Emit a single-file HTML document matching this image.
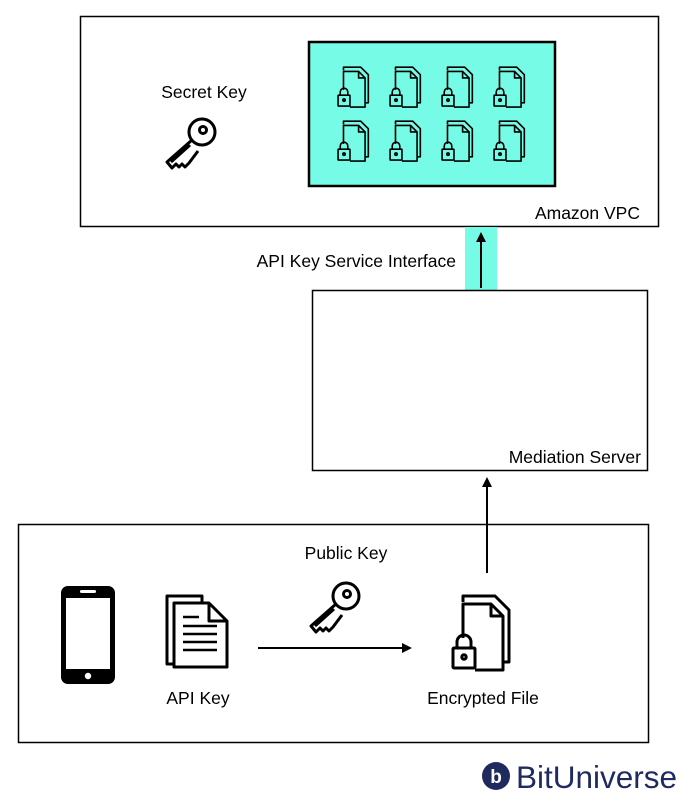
<!DOCTYPE html>
<html><head><meta charset="utf-8"><style>
html,body{margin:0;padding:0;background:#fff}
svg{display:block}
text{font-family:"Liberation Sans",sans-serif;fill:#000}
</style></head><body>
<svg width="694" height="805" viewBox="0 0 694 805" xmlns="http://www.w3.org/2000/svg">
<defs>
<g id="lf" fill="none" stroke="#000" stroke-width="3" stroke-linejoin="round">
  <path d="M12 10 V4 H44 L58 18 V70 H52"/>
  <path d="M12 46 V12 H40 L52 24 V78 H24"/>
  <path d="M40 12 V24 H52"/>
  <rect x="2" y="56" width="22" height="20" rx="1"/>
  <path d="M6 56 V50 A7 7 0 0 1 20 50 V56"/>
  <circle cx="13" cy="65" r="2.2"/>
</g>
<g id="key" fill="none" stroke="#000" stroke-width="3" stroke-linejoin="round">
  <circle cx="38" cy="14" r="13"/>
  <circle cx="39" cy="12" r="3.5"/>
  <path d="M28 22 L3 44 L8 50 L12 46 L15 49 L18 46 L21 49 L25 45 L34 33"/>
  <path d="M7 44 L26 27"/>
</g>
</defs>

<rect x="80.5" y="16.5" width="578" height="210" fill="#fff" stroke="#000" stroke-width="1.5"/>
<text x="204" y="98" font-size="17.5" text-anchor="middle">Secret Key</text>
<use href="#key" transform="translate(164,118)"/>
<rect x="309" y="42" width="246" height="144" fill="#76fbe6" stroke="#000" stroke-width="2.5"/>
<g>
  <use href="#lf" transform="translate(337,65) scale(0.54)"/>
  <use href="#lf" transform="translate(389,65) scale(0.54)"/>
  <use href="#lf" transform="translate(441,65) scale(0.54)"/>
  <use href="#lf" transform="translate(493,65) scale(0.54)"/>
  <use href="#lf" transform="translate(337,119) scale(0.54)"/>
  <use href="#lf" transform="translate(389,119) scale(0.54)"/>
  <use href="#lf" transform="translate(441,119) scale(0.54)"/>
  <use href="#lf" transform="translate(493,119) scale(0.54)"/>
</g>
<text x="640" y="219" font-size="17.5" text-anchor="end">Amazon VPC</text>

<rect x="465" y="227" width="32" height="63" fill="#76fbe6"/>
<line x1="481" y1="288" x2="481" y2="240" stroke="#000" stroke-width="2"/>
<path d="M481 232 L476 242 L486 242 Z" fill="#000"/>
<text x="456" y="267" font-size="17.5" text-anchor="end">API Key Service Interface</text>

<rect x="312.5" y="290.5" width="335" height="180" fill="#fff" stroke="#000" stroke-width="1.5"/>
<text x="641" y="463" font-size="17.5" text-anchor="end">Mediation Server</text>

<line x1="487" y1="573" x2="487" y2="485" stroke="#000" stroke-width="2"/>
<path d="M487 477 L482 487 L492 487 Z" fill="#000"/>

<rect x="18.5" y="524.5" width="630" height="218" fill="none" stroke="#000" stroke-width="1.5"/>
<text x="346" y="559" font-size="17.5" text-anchor="middle">Public Key</text>
<use href="#key" transform="translate(308,582)"/>

<rect x="61" y="586" width="54" height="98" rx="7" fill="#000"/>
<rect x="66" y="598" width="44" height="71" fill="#fff"/>
<rect x="80" y="590" width="16" height="3" rx="1.5" fill="#fff"/>
<circle cx="88" cy="676" r="3.2" fill="#fff"/>

<g fill="none" stroke="#000" stroke-width="3" stroke-linejoin="round">
  <path d="M174 664 H167 V596 H202 V603"/>
  <path d="M174 603 H209 L227 621 V667 H174 Z"/>
  <path d="M209 603 V621 H227"/>
</g>
<g stroke="#000" stroke-width="2.5">
  <line x1="183" y1="617" x2="199" y2="617"/>
  <line x1="183" y1="626" x2="217" y2="626"/>
  <line x1="183" y1="634" x2="217" y2="634"/>
  <line x1="183" y1="642" x2="217" y2="642"/>
  <line x1="183" y1="650" x2="217" y2="650"/>
</g>
<text x="198" y="704" font-size="17.5" text-anchor="middle">API Key</text>

<line x1="258" y1="648" x2="402" y2="648" stroke="#000" stroke-width="2"/>
<path d="M412 648 L402 643 L402 653 Z" fill="#000"/>

<use href="#lf" transform="translate(451,592) scale(1.0)"/>
<text x="483" y="704" font-size="17.5" text-anchor="middle">Encrypted File</text>

<circle cx="496" cy="776" r="14" fill="#1f2a5e"/>
<text x="496" y="783" font-size="19" font-weight="bold" text-anchor="middle" style="fill:#fff">b</text>
<text x="516" y="788" font-size="31.5" style="fill:#1f2a5e">BitUniverse</text>
</svg>
</body></html>
